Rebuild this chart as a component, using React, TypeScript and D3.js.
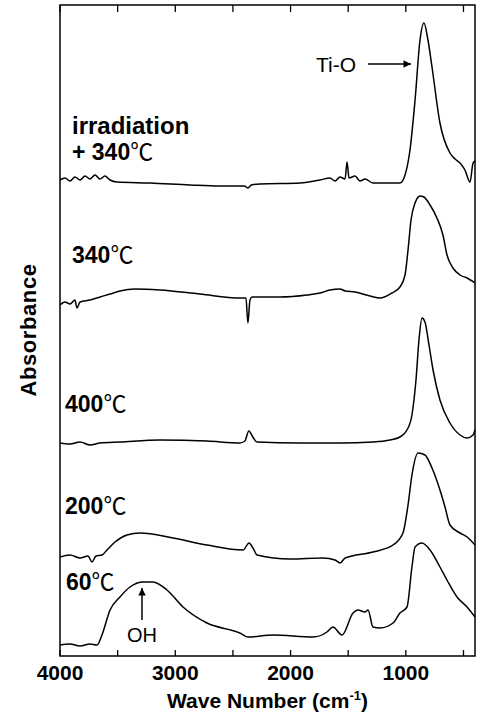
import React from 'react';
import * as d3 from 'd3';

// wave numbers (cm-1) and absorbance (arbitrary units, already offset per trace)
const irrad340: [number, number][] = [
  [4000, 4.76], [3957, 4.78], [3913, 4.75], [3870, 4.79], [3826, 4.76], [3783, 4.8], [3740, 4.77],
  [3696, 4.81], [3653, 4.77], [3610, 4.8], [3566, 4.76], [3506, 4.74], [3219, 4.73], [2872, 4.71],
  [2612, 4.7], [2400, 4.7], [2370, 4.68], [2340, 4.71], [2265, 4.72], [1918, 4.73], [1744, 4.76],
  [1658, 4.78], [1614, 4.75], [1571, 4.79], [1527, 4.77], [1510, 4.94], [1493, 4.78], [1441, 4.8],
  [1397, 4.75], [1354, 4.77], [1285, 4.73], [1051, 4.73], [1007, 4.81], [964, 5.06], [920, 5.56],
  [877, 6.16], [843, 6.33], [808, 6.16], [773, 5.89], [704, 5.33], [617, 5.03], [573, 4.97],
  [530, 4.93], [487, 4.86], [443, 4.74], [417, 4.93], [400, 4.95],
];

const t340: [number, number][] = [
  [4000, 3.51], [3957, 3.54], [3913, 3.52], [3870, 3.56], [3853, 3.48], [3826, 3.54], [3740, 3.56],
  [3653, 3.59], [3566, 3.62], [3480, 3.65], [3349, 3.67], [3133, 3.66], [2786, 3.62], [2440, 3.58],
  [2387, 3.58], [2370, 3.33], [2352, 3.56], [2335, 3.59], [2092, 3.59], [1857, 3.61], [1744, 3.63],
  [1658, 3.66], [1571, 3.67], [1527, 3.65], [1441, 3.64], [1311, 3.6], [1224, 3.58], [1120, 3.63],
  [1051, 3.69], [1007, 3.81], [981, 4.06], [955, 4.36], [920, 4.53], [877, 4.6], [843, 4.59],
  [790, 4.51], [730, 4.38], [678, 4.21], [643, 4.01], [591, 3.88], [530, 3.81], [469, 3.78], [400, 3.73],
];

const t400: [number, number][] = [
  [4000, 2.13], [3913, 2.12], [3826, 2.14], [3740, 2.11], [3653, 2.13], [3480, 2.14], [3133, 2.16],
  [2725, 2.15], [2440, 2.13], [2396, 2.15], [2362, 2.25], [2327, 2.19], [2291, 2.14], [1918, 2.13],
  [1571, 2.13], [1285, 2.14], [1137, 2.16], [1051, 2.19], [990, 2.26], [947, 2.41], [912, 2.76],
  [886, 3.16], [860, 3.38], [834, 3.34], [799, 3.11], [764, 2.86], [704, 2.56], [617, 2.33],
  [530, 2.21], [469, 2.18], [417, 2.21], [400, 2.26],
];

const t200: [number, number][] = [
  [4000, 0.99], [3913, 1.01], [3826, 0.98], [3757, 1.0], [3722, 0.94], [3688, 1.0], [3636, 1.01],
  [3592, 1.06], [3523, 1.14], [3419, 1.21], [3306, 1.23], [3020, 1.18], [2725, 1.11], [2412, 1.06],
  [2360, 1.13], [2326, 1.08], [2291, 1.01], [2005, 0.97], [1718, 0.98], [1614, 0.96], [1571, 0.93],
  [1527, 0.98], [1285, 1.04], [1111, 1.11], [1025, 1.23], [981, 1.51], [947, 1.81], [894, 2.03],
  [834, 2.01], [773, 1.88], [704, 1.66], [660, 1.49], [617, 1.31], [530, 1.23], [469, 1.19], [400, 1.11],
];

const t60: [number, number][] = [
  [4000, 0.11], [3913, 0.12], [3826, 0.1], [3740, 0.12], [3679, 0.11], [3636, 0.21], [3566, 0.46],
  [3480, 0.59], [3393, 0.69], [3280, 0.74], [3193, 0.74], [3072, 0.66], [2933, 0.49], [2725, 0.33],
  [2440, 0.23], [2370, 0.19], [2152, 0.21], [1805, 0.19], [1684, 0.24], [1632, 0.29], [1554, 0.21],
  [1458, 0.43], [1415, 0.46], [1354, 0.44], [1328, 0.46], [1285, 0.29], [1224, 0.28], [1111, 0.33],
  [1051, 0.43], [990, 0.49], [947, 0.89], [920, 1.09], [860, 1.13], [790, 1.06], [704, 0.89],
  [643, 0.76], [556, 0.59], [469, 0.49], [400, 0.39],
];

const traces = [irrad340, t340, t400, t200, t60];
const majorTicks = [4000, 3000, 2000, 1000];
const minorTicks = [3500, 2500, 1500, 500];

const W = 480;
const H = 717;
const margin = { top: 5, right: 5, bottom: 61, left: 60 };
const bold = '"Liberation Sans", Arial, sans-serif';
const cjk = '"Noto Sans CJK JP", sans-serif';

function Label({ x, y, num }: { x: number; y: number; num: string }) {
  return (
    <text x={x} y={y} fontFamily={bold} fontWeight="bold" fontSize={23}>
      {num}
      <tspan fontFamily={cjk} fontWeight="normal" fontSize={23}>℃</tspan>
    </text>
  );
}

export default function App() {
  const x = d3.scaleLinear().domain([4000, 400]).range([margin.left, W - margin.right]);
  const y = d3.scaleLinear().domain([0, 6.51]).range([H - margin.bottom, margin.top]);
  const line = d3.line<[number, number]>().x(d => x(d[0])).y(d => y(d[1])).curve(d3.curveMonotoneX);
  const bottom = H - margin.bottom;

  return (
    <svg width={W} height={H} style={{ position: 'absolute', left: 0, top: 0 }}>
      <defs>
        <marker id="arr" viewBox="0 0 10 10" refX="10" refY="5" markerWidth="6" markerHeight="5" orient="auto">
          <path d="M0,0 L10,5 L0,10 z" fill="#000" />
        </marker>
      </defs>
      <rect x={margin.left} y={margin.top} width={W - margin.left - margin.right}
        height={bottom - margin.top} fill="none" stroke="#000" strokeWidth={1.5} />
      {[...majorTicks, ...minorTicks].map(t => (
        <g key={t}>
          <line x1={x(t)} x2={x(t)} y1={bottom} y2={bottom - 6} stroke="#000" strokeWidth={1.3} />
          <line x1={x(t)} x2={x(t)} y1={margin.top} y2={margin.top + 7} stroke="#000" strokeWidth={1.3} />
        </g>
      ))}
      {majorTicks.map(t => (
        <text key={t} x={x(t)} y={680} textAnchor="middle" fontFamily={bold} fontWeight="bold" fontSize={21}>{t}</text>
      ))}
      <text x={(margin.left + W - margin.right) / 2} y={708} textAnchor="middle" fontFamily={bold} fontWeight="bold" fontSize={21}>
        Wave Number (cm<tspan dy={-8} fontSize={13}>-1</tspan><tspan dy={8}>)</tspan>
      </text>
      <text transform="translate(36,330) rotate(-90)" textAnchor="middle" fontFamily={bold} fontWeight="bold" fontSize={22} letterSpacing={0.6}>
        Absorbance
      </text>
      {traces.map((d, i) => (
        <path key={i} d={line(d) || ''} fill="none" stroke="#000" strokeWidth={1.5} strokeLinejoin="round" />
      ))}
      <text x={72} y={134} fontFamily={bold} fontWeight="bold" fontSize={24}>irradiation</text>
      <Label x={72} y={160} num="+ 340" />
      <Label x={72} y={263} num="340" />
      <Label x={65} y={412} num="400" />
      <Label x={65} y={514} num="200" />
      <Label x={66} y={590} num="60" />
      <text x={316} y={72} fontFamily={bold} fontSize={21}>Ti-O</text>
      <line x1={368} y1={64} x2={411} y2={64} stroke="#000" strokeWidth={1.5} markerEnd="url(#arr)" />
      <text x={142} y={642} textAnchor="middle" fontFamily={bold} fontSize={20}>OH</text>
      <line x1={142} y1={620} x2={142} y2={588} stroke="#000" strokeWidth={1.5} markerEnd="url(#arr)" />
    </svg>
  );
}
